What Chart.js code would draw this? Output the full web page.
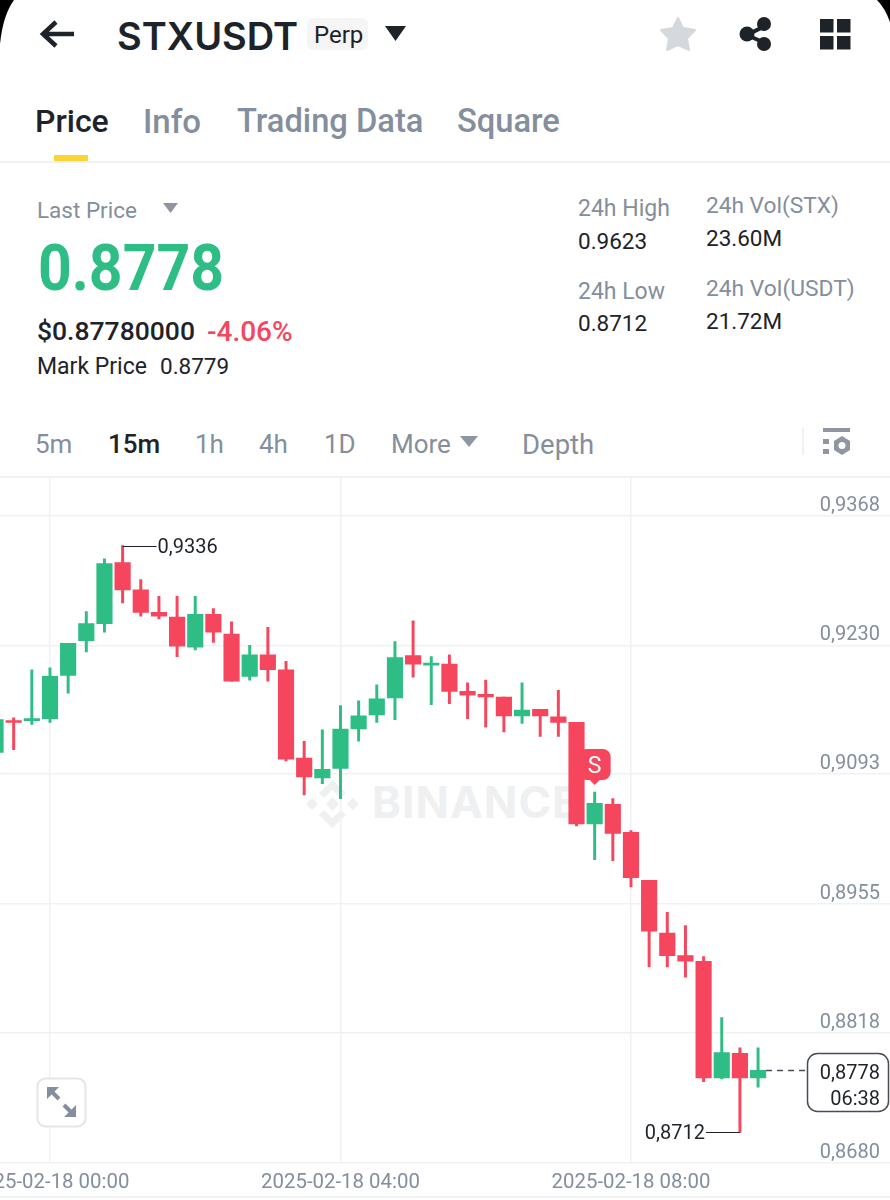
<!DOCTYPE html>
<html>
<head>
<meta charset="utf-8">
<title>STXUSDT Perp</title>
<script src="https://cdn.jsdelivr.net/npm/chart.js@4/dist/chart.umd.min.js"></script>
<style>
    html, body { margin: 0; padding: 0; background: #fff; }
    #page { position: relative; width: 890px; height: 1200px; overflow: hidden; background: #fff; font-family: Roboto, sans-serif; }
    .t { position: absolute; line-height: 1; white-space: nowrap; }
    .dark { color: #1e2329; }
    .grey { color: #848e9c; }
    .line { position: absolute; left: 0; width: 890px; height: 2px; background: #eff1f3; }
    svg.abs { position: absolute; left: 0; top: 0; }
    #priceChart { position: absolute; left: 0; top: 477px; }
</style>
</head>
<body>
<div id="page">
    <!-- screen corners + icons -->
    <svg class="abs" width="890" height="1200">
        <path d="M0 0 L14 0 Q3 15 0 44 Z" fill="#000"/>
        <path d="M877 0 L890 0 L890 22 Q885 8 877 0 Z" fill="#000"/>
        <path d="M74 34 H44 M56 22 L43 34 L56 46" fill="none" stroke="#1e2329" stroke-width="4.500"/>
        <rect x="307" y="18" width="61" height="32" rx="6" fill="#f5f5f5"/>
        <path d="M385 26 H406 L395.500 41 Z" fill="#1e2329"/>
        <path d="M678 18 L683 28 L695 30 L687 38.500 L689 50 L678 45 L667 50 L669 38.500 L661 30 L673 28 Z" fill="#d5d8dc" stroke="#d5d8dc" stroke-width="2" stroke-linejoin="round"/>
        <path d="M767 25 L747 35 L767 44" fill="none" stroke="#1e2329" stroke-width="4"/>
        <circle cx="764" cy="24" r="7" fill="#1e2329"/><circle cx="747" cy="34" r="7.500" fill="#1e2329"/><circle cx="764" cy="44" r="7" fill="#1e2329"/>
        <rect x="820" y="19" width="13.500" height="13.500" fill="#1e2329"/><rect x="837" y="19" width="13.500" height="13.500" fill="#1e2329"/>
        <rect x="820" y="36" width="13.500" height="13.500" fill="#1e2329"/><rect x="837" y="36" width="13.500" height="13.500" fill="#1e2329"/>
        <rect x="54" y="155" width="34" height="7" fill="#fcd535"/>
        <path d="M163 203 H178 L170.500 213 Z" fill="#8f96a1"/>
        <path d="M460 436 H478 L469 447 Z" fill="#8f96a1"/>
        <rect x="802" y="428" width="2" height="27" fill="#eff1f3"/>
        <rect x="823" y="428" width="27" height="4" fill="#8f96a1"/>
        <rect x="823" y="439" width="6" height="5" fill="#8f96a1"/><rect x="823" y="449" width="6" height="5" fill="#8f96a1"/>
        <path d="M842 436 L850 441 V450 L842 455 L834 450 V441 Z" fill="#8f96a1"/><circle cx="842" cy="445.500" r="3.500" fill="#fff"/>
        <!-- watermark under the chart canvas -->
        <g fill="#eef0f1">
            <path d="M332.500 780 L346 793 L341 798 L332.500 790 L324 798 L319 793 Z"/>
            <path d="M332.500 828 L346 815 L341 810 L332.500 818 L324 810 L319 815 Z"/>
            <path d="M332.500 797 L339 804 L332.500 811 L326 804 Z"/>
            <path d="M312 798 L318 804 L312 810 L306 804 Z"/>
            <path d="M353 798 L359 804 L353 810 L347 804 Z"/>
        </g>
        <text x="372" y="818" font-family="Inter, sans-serif" font-weight="700" font-size="44" letter-spacing="1" fill="#eef0f1">BINANCE</text>
    </svg>

    <span class="t dark" style="left:117px;top:17px;font-size:38px;font-weight:600;font-family:Inter,sans-serif;">STXUSDT</span>
    <span class="t dark" style="left:314px;top:23px;font-size:24px;">Perp</span>

    <span class="t dark" style="left:35px;top:105px;font-size:32px;font-weight:500;">Price</span>
    <span class="t grey" style="left:143px;top:105px;font-size:33px;font-weight:500;">Info</span>
    <span class="t grey" style="left:237px;top:105px;font-size:32.700px;font-weight:500;">Trading Data</span>
    <span class="t grey" style="left:457px;top:105px;font-size:32.700px;font-weight:500;">Square</span>
    <div class="line" style="top:161px;"></div>

    <span class="t grey" style="left:37px;top:199px;font-size:22.500px;">Last Price</span>
    <span class="t" style="left:38px;top:237px;font-size:64px;font-weight:700;color:#2ebd85;transform:scaleX(.92);transform-origin:left;">0.8778</span>
    <span class="t dark" style="left:37px;top:318px;font-size:26.500px;font-weight:500;">$0.87780000</span>
    <span class="t" style="left:207px;top:318px;font-size:28px;font-weight:500;color:#f6465d;">-4.06%</span>
    <span class="t dark" style="left:37px;top:355px;font-size:23px;">Mark Price</span>
    <span class="t dark" style="left:160px;top:355px;font-size:22.500px;">0.8779</span>

    <span class="t grey" style="left:578px;top:197px;font-size:23px;">24h High</span>
    <span class="t dark" style="left:578px;top:230px;font-size:22.500px;">0.9623</span>
    <span class="t grey" style="left:578px;top:280px;font-size:23px;">24h Low</span>
    <span class="t dark" style="left:578px;top:312px;font-size:22.500px;">0.8712</span>
    <span class="t grey" style="left:706px;top:195px;font-size:22.700px;">24h Vol(STX)</span>
    <span class="t dark" style="left:706px;top:227px;font-size:22.500px;">23.60M</span>
    <span class="t grey" style="left:706px;top:278px;font-size:22.800px;">24h Vol(USDT)</span>
    <span class="t dark" style="left:706px;top:310px;font-size:22.500px;">21.72M</span>

    <span class="t grey" style="left:35px;top:431px;font-size:26px;">5m</span>
    <span class="t dark" style="left:108px;top:431px;font-size:26px;font-weight:500;">15m</span>
    <span class="t grey" style="left:195px;top:431px;font-size:26px;">1h</span>
    <span class="t grey" style="left:259px;top:431px;font-size:26px;">4h</span>
    <span class="t grey" style="left:324px;top:431px;font-size:26px;">1D</span>
    <span class="t grey" style="left:391px;top:431px;font-size:26px;">More</span>
    <span class="t grey" style="left:522px;top:431px;font-size:27.500px;">Depth</span>
    <div class="line" style="top:476px;"></div>

    <canvas id="priceChart" width="890" height="721"></canvas>

    <div class="line" style="top:1196px;"></div>
    <svg class="abs" width="890" height="1200" style="pointer-events:none;">
        <rect x="37.500" y="1078.500" width="48" height="48" rx="8" fill="#fff" stroke="#e3e5e8" stroke-width="2"/>
        <path d="M50 1090 L59 1099 M73 1114 L64 1105" stroke="#848e9c" stroke-width="4"/>
        <path d="M47 1099 V1087 H59 Z M76 1105 V1117 H64 Z" fill="#848e9c"/>
    </svg>
</div>

<script>
// 15m candles, minutes counted from 2025-02-18 00:00
const candleMinutes = [-45, -30, -15, 0, 15, 30, 45, 60, 75, 90, 105, 120, 135, 150, 165, 180, 195, 210, 225, 240, 255, 270, 285, 300, 315, 330, 345, 360, 375, 390, 405, 420, 435, 450, 465, 480, 495, 510, 525, 540, 555, 570, 585];
const opens = [0.9116, 0.9150, 0.9150, 0.9152, 0.9198, 0.9235, 0.9253, 0.9318, 0.9289, 0.9265, 0.9260, 0.9228, 0.9263, 0.9242, 0.9197, 0.9220, 0.9204, 0.9110, 0.9089, 0.9099, 0.9141, 0.9156, 0.9174, 0.9219, 0.9209, 0.9210, 0.9181, 0.9178, 0.9175, 0.9155, 0.9162, 0.9154, 0.9148, 0.9040, 0.9061, 0.9031, 0.8980, 0.8924, 0.8900, 0.8894, 0.8770, 0.8796, 0.8770];
const highs = [0.9151, 0.9153, 0.9204, 0.9206, 0.9232, 0.9266, 0.9322, 0.9336, 0.9300, 0.9282, 0.9282, 0.9282, 0.9269, 0.9255, 0.9230, 0.9249, 0.9213, 0.9128, 0.9140, 0.9166, 0.9171, 0.9188, 0.9234, 0.9256, 0.9218, 0.9220, 0.9190, 0.9193, 0.9175, 0.9190, 0.9162, 0.9182, 0.9148, 0.9074, 0.9067, 0.9033, 0.8980, 0.8946, 0.8932, 0.8899, 0.8834, 0.8802, 0.8802];
const lows = [0.9116, 0.9119, 0.9146, 0.9148, 0.9179, 0.9223, 0.9244, 0.9275, 0.9261, 0.9258, 0.9218, 0.9225, 0.9233, 0.9192, 0.9193, 0.9192, 0.9107, 0.9071, 0.9083, 0.9067, 0.9128, 0.9148, 0.9151, 0.9196, 0.9167, 0.9168, 0.9152, 0.9143, 0.9138, 0.9147, 0.9133, 0.9133, 0.9038, 0.9002, 0.9001, 0.8973, 0.8888, 0.8888, 0.8877, 0.8766, 0.8769, 0.8712, 0.8760];
const closes = [0.9151, 0.9148, 0.9152, 0.9197, 0.9232, 0.9253, 0.9317, 0.9289, 0.9265, 0.9261, 0.9229, 0.9263, 0.9244, 0.9192, 0.9220, 0.9204, 0.9109, 0.9090, 0.9098, 0.9141, 0.9155, 0.9173, 0.9217, 0.9210, 0.9211, 0.9181, 0.9177, 0.9175, 0.9155, 0.9161, 0.9155, 0.9148, 0.9040, 0.9062, 0.9030, 0.8983, 0.8926, 0.8900, 0.8894, 0.8770, 0.8797, 0.8770, 0.8778];

const priceTicks = [0.9368, 0.9230, 0.9093, 0.8955, 0.8818, 0.8680];
const timeTicks = [0, 240, 480];
const timeLabels = ['2025-02-18 00:00', '2025-02-18 04:00', '2025-02-18 08:00'];

const highestMinute = 60, highestPrice = 0.9336;
const lowestMinute = 570, lowestPrice = 0.8712;
const lastPrice = 0.8778, countdown = '06:38';
const sellMinute = 450;

const GREEN = '#2ebd85';
const RED = '#f6465d';
const INK = '#1e2329';
const tickFont = { family: 'Roboto, sans-serif', size: 20 };

const candleColors = opens.map(function (o, i) {
    return closes[i] >= o ? GREEN : RED;
});

function commaPrice(v) {
    return v.toFixed(4).replace('.', ',');
}

// High / low callouts, last price tag and the S marker
const overlayPlugin = {
    id: 'overlay',
    afterDatasetsDraw: function (chart) {
        const ctx = chart.ctx, x = chart.scales.x, y = chart.scales.y;
        ctx.save();
        ctx.font = '20px Roboto, sans-serif';
        ctx.textBaseline = 'middle';
        ctx.strokeStyle = INK;
        ctx.fillStyle = INK;
        ctx.lineWidth = 1;

        const hx = x.getPixelForValue(highestMinute), hy = Math.round(y.getPixelForValue(highestPrice)) + 0.5;
        ctx.beginPath(); ctx.moveTo(hx, hy); ctx.lineTo(hx + 34, hy); ctx.stroke();
        ctx.textAlign = 'left';
        ctx.fillText(commaPrice(highestPrice), hx + 35, hy + 1);

        const lx = x.getPixelForValue(lowestMinute), ly = Math.round(y.getPixelForValue(lowestPrice)) + 0.5;
        ctx.beginPath(); ctx.moveTo(lx, ly); ctx.lineTo(lx - 34, ly); ctx.stroke();
        ctx.textAlign = 'right';
        ctx.fillText(commaPrice(lowestPrice), lx - 35, ly + 1);

        // last price: dashed line into the rounded tag
        const py = Math.round(y.getPixelForValue(lastPrice)) + 0.5;
        ctx.strokeStyle = '#474d57';
        ctx.lineWidth = 1.5;
        ctx.setLineDash([6, 5]);
        ctx.beginPath(); ctx.moveTo(x.getPixelForValue(585) + 8, py); ctx.lineTo(807, py); ctx.stroke();
        ctx.setLineDash([]);
        ctx.fillStyle = '#fff';
        ctx.beginPath(); ctx.roundRect(807.5, py - 17, 81, 58, 10); ctx.fill(); ctx.stroke();
        ctx.fillStyle = INK;
        ctx.fillText(commaPrice(lastPrice), 880, py + 3);
        ctx.fillText(countdown, 880, py + 29);

        // S marker above the candle
        const sx = x.getPixelForValue(sellMinute);
        ctx.fillStyle = RED;
        ctx.beginPath(); ctx.roundRect(sx - 16, 272, 32, 31, 8); ctx.fill();
        ctx.beginPath(); ctx.moveTo(sx - 6, 302); ctx.lineTo(sx + 6, 302); ctx.lineTo(sx, 308); ctx.closePath(); ctx.fill();
        ctx.fillStyle = '#fff';
        ctx.textAlign = 'center';
        ctx.font = '23px Roboto, sans-serif';
        ctx.fillText('S', sx, 290);
        ctx.restore();
    }
};

const priceCtx = document.getElementById('priceChart').getContext('2d');
const priceChart = new Chart(priceCtx, {
    type: 'bar',
    data: {
        datasets: [{
            label: 'Body',
            data: candleMinutes.map(function (m, i) { return { x: m, y: [opens[i], closes[i]] }; }),
            backgroundColor: candleColors,
            barThickness: 15.5,
            grouped: false,
            borderSkipped: false
        }, {
            label: 'Wick',
            data: candleMinutes.map(function (m, i) { return { x: m, y: [lows[i], highs[i]] }; }),
            backgroundColor: candleColors,
            barThickness: 2.3,
            grouped: false,
            borderSkipped: false
        }]
    },
    options: {
        responsive: false,
        animation: false,
        layout: { padding: 0 },
        plugins: {
            legend: { display: false },
            tooltip: { enabled: false }
        },
        scales: {
            x: {
                type: 'linear',
                offset: false,
                min: -41.3,
                max: 694,
                afterBuildTicks: function (scale) {
                    scale.ticks = timeTicks.map(function (v) { return { value: v }; });
                },
                afterFit: function (scale) {
                    scale.paddingLeft = 0;
                    scale.paddingRight = 0;
                    scale.height = 35.5;
                },
                border: { display: false },
                grid: { offset: false, color: '#eff1f3', lineWidth: 1.5, drawTicks: false },
                ticks: {
                    autoSkip: false,
                    maxRotation: 0,
                    padding: 8,
                    color: '#848e9c',
                    font: { family: 'Roboto, sans-serif', size: 20.4 },
                    callback: function (value) {
                        return timeLabels[timeTicks.indexOf(value)];
                    }
                }
            },
            y: {
                type: 'linear',
                position: 'right',
                min: 0.868,
                max: 0.9409,
                afterBuildTicks: function (scale) {
                    scale.ticks = priceTicks.map(function (v) { return { value: v }; });
                },
                afterFit: function (scale) {
                    scale.paddingTop = 0;
                    scale.paddingBottom = 0;
                    scale.width = 0;
                },
                border: { display: false },
                grid: { color: '#eff1f3', lineWidth: 1.5, drawTicks: false },
                ticks: {
                    mirror: true,
                    padding: -10,
                    labelOffset: -10,
                    color: '#848e9c',
                    font: tickFont,
                    callback: function (value) {
                        return commaPrice(value);
                    }
                }
            }
        }
    },
    plugins: [overlayPlugin]
});
</script>
</body>
</html>
